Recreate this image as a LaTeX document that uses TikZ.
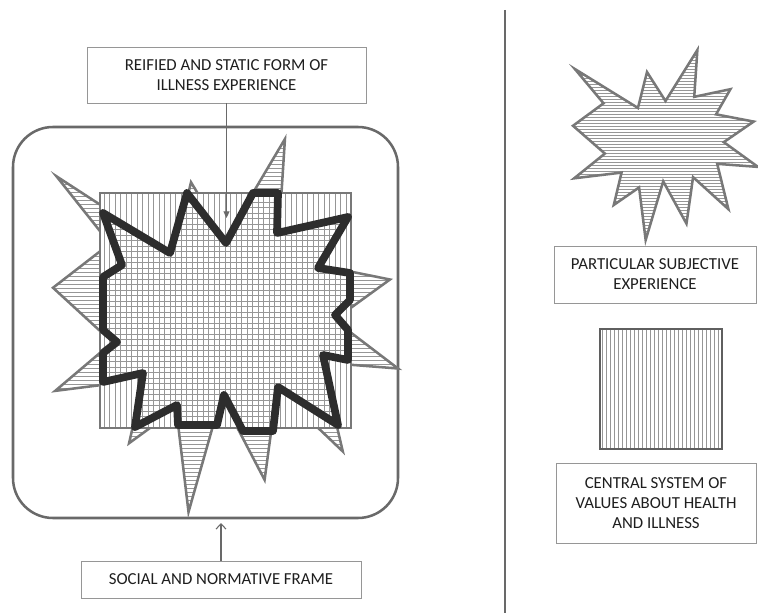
\documentclass[tikz,border=0pt]{standalone}
\usepackage{fontspec}
\setmainfont{Carlito}
\usetikzlibrary{arrows.meta}

\definecolor{ink}{RGB}{30,30,30}
\definecolor{boxline}{RGB}{150,150,150}
\definecolor{framecol}{RGB}{105,105,105}
\definecolor{hatchcol}{RGB}{150,150,150}
\definecolor{sealcol}{RGB}{120,120,120}
\definecolor{burstcol}{RGB}{45,45,45}
\definecolor{squarecol}{RGB}{120,120,120}

\tikzset{
  % irregular seal, in a unit box (0..1 both ways)
  sealshape/.style={insert path={
    (0.5,0.2685) -- (0.6723,0) -- (0.6553,0.2465) -- (0.8509,0.2063) --
    (0.7732,0.3387) -- (0.9767,0.3767) -- (0.8151,0.4850) -- (1,0.6153) --
    (0.7795,0.5992) -- (0.8400,0.8377) -- (0.6491,0.6693) -- (0.6133,0.9138) --
    (0.4876,0.6914) -- (0.3928,1) -- (0.3572,0.7235) -- (0.2205,0.8156) --
    (0.2624,0.6452) -- (0.0063,0.6753) -- (0.1723,0.5451) -- (0,0.3988) --
    (0.1651,0.2806) -- (0.01,0.1) -- (0.351,0.305) -- (0.4,0.116) -- cycle}},
  % thick burst drawn over the central square
  burstshape/.style={insert path={
    (103,213) -- (170,253) -- (187,193) -- (226,243) -- (253,193) -- (278,193) --
    (277,233) -- (348,217) -- (318,268) -- (350,273) -- (350,300) -- (335,315) --
    (348,330) -- (348,360) -- (323,355) -- (338,425) -- (278,387) -- (273,431) --
    (243,431) -- (224,395) -- (217,425) -- (178,425) -- (177,405) -- (135,427) --
    (143,373) -- (103,382) -- (103,353) -- (117,342) -- (103,330) -- (103,277) --
    (122,265) -- cycle}},
  hatch/.style={draw=hatchcol, line width=0.6pt},
  sealline/.style={draw=sealcol, line width=1.9pt},
  caption/.style={draw=boxline, line width=0.7pt, fill=white, align=center,
    inner sep=0pt, text=ink, font=\fontsize{12.6}{15}\selectfont},
  pointer/.style={draw=framecol, line width=0.8pt},
}

\begin{document}
\begin{tikzpicture}[x=0.75pt,y=-0.75pt]
\useasboundingbox (0,0) rectangle (758,613);

% social and normative frame
\node[draw=framecol, line width=1.9pt, rounded corners=30pt,
      minimum width=385*0.75pt, minimum height=391*0.75pt, inner sep=0pt]
      (frame) at (205.5,322.5) {};

% large seal with horizontal hatching
\begin{scope}[shift={(53,139)}, x=258.75pt, y=-279.75pt]
  \fill[white, sealshape];
  \begin{scope}
    \clip[sealshape];
    \foreach \t in {0.005,0.0157,...,1} \draw[hatch] (0,\t) -- (1,\t);
  \end{scope}
  \path[sealline, sealshape];
\end{scope}

% central square with vertical hatching
\fill[white] (100,193) rectangle (351,428);
\foreach \x in {104,109.5,...,350} \draw[hatch] (\x,193) -- (\x,428);
\draw[draw=squarecol, line width=1.5pt] (100,193) rectangle (351,428);

% burst: horizontal hatching on top of the square, then its heavy outline
\begin{scope}
  \clip[burstshape];
  \foreach \y in {191,196.5,...,436} \draw[hatch] (95,\y) -- (356,\y);
\end{scope}
\path[draw=burstcol, line width=5.8pt, line join=round, burstshape];

% labels on the left
\node[caption, minimum width=279*0.75pt, minimum height=56*0.75pt]
  (reified) at (226.5,75) {REIFIED AND STATIC FORM OF\\ILLNESS EXPERIENCE};
\coordinate (reifiedtip) at (226.5,218);
\draw[pointer, -{Triangle[length=5pt,width=4.5pt]}] (reified.south) -- (reifiedtip);

\node[caption, minimum width=280*0.75pt, minimum height=37*0.75pt]
  (social) at (221,579.5) {SOCIAL AND NORMATIVE FRAME};
\coordinate (socialtip) at (221,523);
\draw[pointer, -{Straight Barb[length=4pt,width=7.5pt]}] (social.north) -- (socialtip);

% divider
\draw[draw=framecol, line width=1.1pt] (505,10) -- (505,613);

% legend: small seal
\begin{scope}[shift={(573,50)}, x=138.75pt, y=-142.5pt]
  \fill[white, sealshape];
  \begin{scope}
    \clip[sealshape];
    \foreach \t in {0.008,0.0238,...,1} \draw[hatch] (0,\t) -- (1,\t);
  \end{scope}
  \path[sealline, sealshape];
\end{scope}
\node[caption, minimum width=202*0.75pt, minimum height=57*0.75pt]
  (particular) at (655,274.5) {PARTICULAR SUBJECTIVE\\EXPERIENCE};

% legend: small square
\foreach \x in {602,606,...,720} \draw[hatch] (\x,329) -- (\x,449);
\draw[draw={rgb,255:red,95;green,95;blue,95}, line width=2pt] (600,329) rectangle (722,449);
\node[caption, minimum width=200*0.75pt, minimum height=80*0.75pt]
  (central) at (656,503) {CENTRAL SYSTEM OF\\VALUES ABOUT HEALTH\\AND ILLNESS};

\end{tikzpicture}
\end{document}
